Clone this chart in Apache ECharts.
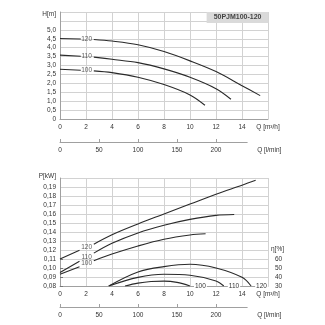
<!DOCTYPE html>
<html><head><meta charset="utf-8">
<script src="https://cdn.jsdelivr.net/npm/echarts@6/dist/echarts.min.js"></script>
<style>html,body{margin:0;padding:0;background:#fff}#c{width:325px;height:325px}</style>
</head><body><div id="c"></div>
<script>
// ---- data ----
const chartTitle = '50PJM100-120';
const curveNames = ['120', '110', '100'];

// Head H [m] vs Q [m³/h]
const hQ120 = [0, 1.6, 2.6, 4, 6, 8, 10, 12, 14, 15.4];
const hH120 = [4.51, 4.49, 4.46, 4.37, 4.16, 3.78, 3.26, 2.66, 1.87, 1.31];
const hQ110 = [0, 1.6, 2.6, 4, 6, 8, 10, 12, 13.15];
const hH110 = [3.58, 3.52, 3.47, 3.35, 3.16, 2.81, 2.34, 1.70, 1.11];
const hQ100 = [0, 1.6, 2.6, 4, 6, 8, 10, 11.15];
const hH100 = [2.79, 2.73, 2.70, 2.60, 2.34, 1.93, 1.35, 0.77];

// Power P [kW] vs Q [m³/h]
const pQ120 = [0, 1.5, 2.6, 4, 6, 8, 10, 12, 14, 15.05];
const pP120 = [0.110, 0.1197, 0.1265, 0.137, 0.149, 0.160, 0.171, 0.182, 0.192, 0.1975];
const pQ110 = [0, 1.5, 2.6, 4, 6, 8, 10, 12, 13.4];
const pP110 = [0.095, 0.1075, 0.1165, 0.1275, 0.139, 0.1475, 0.154, 0.1585, 0.1595];
const pQ100 = [0, 1.5, 2.6, 4, 6, 8, 10, 11.2];
const pP100 = [0.093, 0.1015, 0.108, 0.1155, 0.1245, 0.132, 0.1367, 0.138];

// Efficiency η [%] vs Q [m³/h]
const eQ120 = [3.75, 6, 8, 10, 12, 14, 14.7];
const eE120 = [30, 45.6, 51.5, 54.1, 50, 39.6, 30];
const eQ110 = [3.75, 6, 8, 10, 12, 12.6];
const eE110 = [30, 39.6, 43, 41.9, 35.6, 30];
const eQ100 = [5, 6, 7, 8, 9, 10];
const eE100 = [30, 33.2, 35, 35.4, 34, 30];

// in-line curve labels (placed on the curves at Q≈2)
const labelQ = 2.05;
const hLabelVals = [4.48, 3.50, 2.71];
const pLabelVals = [0.123, 0.112, 0.1048];

// axes
const qMax = 16, qStep = 2;
const lminMax = 240, lminStep = 50;
const hMin = 0, hMax = 6, hStep = 0.5, hLabelMax = 5;
const pMin = 0.08, pMax = 0.20, pStep = 0.01;
const eMin = 30, eMax = 60, eStep = 10;

// ---- styling ----
const FONT = 'Liberation Sans, Arial, sans-serif';
const FS = 6.5;
const TXT = '#333';
const GRIDC = '#d2d2d2';
const AXC = '#a0a0a0';
const LINEC = '#2a2a2a';

function withGap(q, v) {
  const out = [];
  for (let i = 0; i < q.length; i++) {
    if (i > 0 && q[i - 1] < labelQ && q[i] > labelQ) out.push([labelQ, null]);
    out.push([q[i], v[i]]);
  }
  return out;
}
function pairs(q, v) { return q.map((x, i) => [x, v[i]]); }
const comma = (v, d) => v.toFixed(d).replace('.', ',');

const baseLabel = { fontFamily: FONT, fontSize: FS, color: TXT };

function lineSeries(data, xi, yi, extra) {
  return Object.assign({
    type: 'line', xAxisIndex: xi, yAxisIndex: yi, data: data,
    smooth: 0.35, symbol: 'none', connectNulls: false,
    lineStyle: { color: LINEC, width: 1.1 }, silent: true, z: 3
  }, extra || {});
}
function labelSeries(vals, xi, yi) {
  return {
    type: 'scatter', xAxisIndex: xi, yAxisIndex: yi, symbolSize: 1,
    itemStyle: { color: 'rgba(0,0,0,0)' }, silent: true, z: 4,
    data: vals.map((v, i) => ({ value: [labelQ, v], name: curveNames[i] })),
    label: Object.assign({ show: true, position: 'inside', formatter: p => p.name }, baseLabel),
    labelLayout: { hideOverlap: false }
  };
}

const qAxisCommon = {
  type: 'value', min: 0, max: qMax, interval: qStep,
  axisLine: { show: true, lineStyle: { color: AXC, width: 1 } },
  axisTick: { show: false },
  splitLine: { show: true, lineStyle: { color: GRIDC, width: 1 } },
  axisLabel: Object.assign({ margin: 5, formatter: v => v === qMax ? 'Q [m³/h]' : String(v) }, baseLabel)
};
const lminAxis = (gi) => ({
  type: 'value', gridIndex: gi, min: 0, max: lminMax, interval: lminStep,
  axisLine: { show: true, lineStyle: { color: AXC, width: 1 } },
  axisTick: { show: true, inside: true, length: 3, lineStyle: { color: AXC } },
  splitLine: { show: false },
  axisLabel: Object.assign({ margin: 5, showMaxLabel: false }, baseLabel),
  name: 'Q [l/min]', nameLocation: 'end', nameGap: 10,
  nameTextStyle: Object.assign({ verticalAlign: 'top', padding: [5, 0, 0, 0] }, baseLabel)
});
const hiddenY = (gi) => ({ type: 'value', gridIndex: gi, show: false, min: 0, max: 1 });

const endLbl = (txt) => Object.assign({ show: true, formatter: txt, distance: 4, backgroundColor: '#fff', padding: [0, 1] }, baseLabel);

const option = {
  animation: false,
  backgroundColor: '#fff',
  textStyle: { fontFamily: FONT },
  title: {
    text: chartTitle, right: 56.5, top: 12,
    backgroundColor: '#dadada', padding: [2, 7, 2, 7],
    textStyle: { fontFamily: FONT, fontSize: 7, fontWeight: 'bold', color: '#444' }
  },
  grid: [
    { left: 60, top: 12, width: 208, height: 107 },
    { left: 60, top: 141, width: 208 * lminMax / (qMax * 1000 / 60), height: 1 },
    { left: 60, top: 178, width: 208, height: 108 },
    { left: 60, top: 306, width: 208 * lminMax / (qMax * 1000 / 60), height: 1 },
    { left: 60, top: 259, width: 208, height: 27 }
  ],
  xAxis: [
    Object.assign({ gridIndex: 0 }, qAxisCommon),
    lminAxis(1),
    Object.assign({ gridIndex: 2 }, qAxisCommon),
    lminAxis(3),
    { type: 'value', gridIndex: 4, min: 0, max: qMax, show: false }
  ],
  yAxis: [
    {
      type: 'value', gridIndex: 0, min: hMin, max: hMax, interval: hStep,
      axisLine: { show: true, lineStyle: { color: AXC, width: 1 } },
      axisTick: { show: false },
      splitLine: { show: true, lineStyle: { color: GRIDC, width: 1 } },
      axisLabel: Object.assign({
        margin: 4,
        formatter: v => v >= hMax - 1e-9 ? '{n|H[m]}' : (v > hLabelMax + 1e-9 ? '' : (v === 0 ? '0' : comma(v, 1))),
        rich: { n: Object.assign({ padding: [5, 0, 0, 0] }, baseLabel) }
      }, baseLabel)
    },
    hiddenY(1),
    {
      type: 'value', gridIndex: 2, min: pMin, max: pMax, interval: pStep,
      axisLine: { show: true, lineStyle: { color: AXC, width: 1 } },
      axisTick: { show: false },
      splitLine: { show: true, lineStyle: { color: GRIDC, width: 1 } },
      axisLabel: Object.assign({
        margin: 4,
        formatter: v => v >= pMax - 1e-6 ? '{n|P[kW]}' : comma(v, 2),
        rich: { n: Object.assign({ padding: [0, 0, 4, 0] }, baseLabel) }
      }, baseLabel)
    },
    hiddenY(3),
    {
      type: 'value', gridIndex: 4, position: 'right', min: eMin, max: eMax, interval: eStep,
      axisLine: { show: false },
      axisTick: { show: true, length: 3, lineStyle: { color: '#777' } },
      splitLine: { show: false },
      axisLabel: Object.assign({ margin: 7 }, baseLabel)
    }
  ],
  graphic: [
    { type: 'text', left: 271, top: 246, style: { text: 'η[%]', fontFamily: FONT, fontSize: FS, fill: TXT } }
  ],
  series: [
    lineSeries(withGap(hQ120, hH120), 0, 0),
    lineSeries(withGap(hQ110, hH110), 0, 0),
    lineSeries(withGap(hQ100, hH100), 0, 0),
    labelSeries(hLabelVals, 0, 0),
    lineSeries(withGap(pQ120, pP120), 2, 2),
    lineSeries(withGap(pQ110, pP110), 2, 2),
    lineSeries(withGap(pQ100, pP100), 2, 2),
    labelSeries(pLabelVals, 2, 2),
    lineSeries(pairs(eQ120, eE120), 4, 4, { name: curveNames[0], endLabel: endLbl(curveNames[0]) }),
    lineSeries(pairs(eQ110, eE110), 4, 4, { name: curveNames[1], endLabel: endLbl(curveNames[1]) }),
    lineSeries(pairs(eQ100, eE100), 4, 4, { name: curveNames[2], endLabel: endLbl(curveNames[2]) })
  ]
};
const chart = echarts.init(document.getElementById('c'), null, { renderer: 'canvas' });
chart.setOption(option);
</script></body></html>
